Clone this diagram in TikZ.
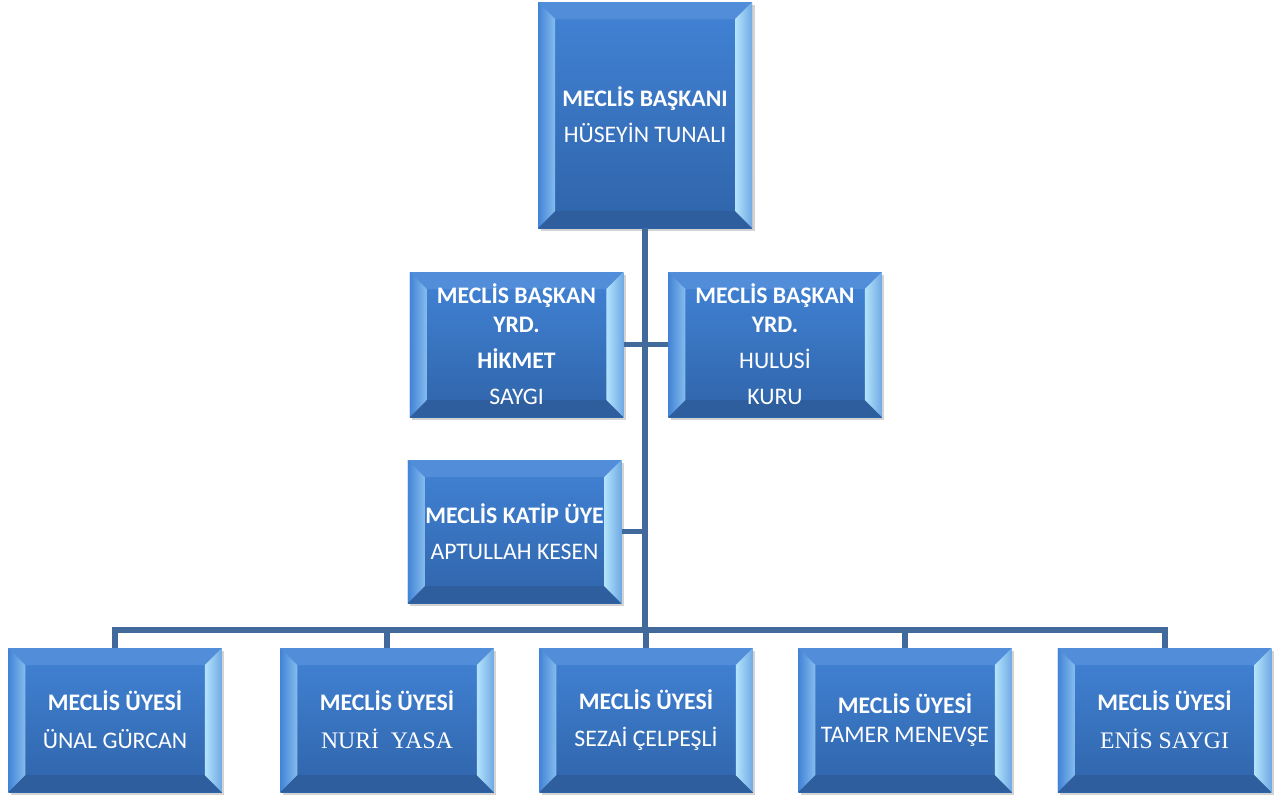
\documentclass[tikz,border=0pt]{standalone}
\usepackage{fontspec}
\setmainfont{Carlito}
\newfontfamily\timesfont{Liberation Serif}
\usetikzlibrary{shadows}

\definecolor{boxtop}{HTML}{4283D6}
\definecolor{boxbot}{HTML}{2F64A9}
\definecolor{bevlight}{HTML}{B4E4FB}
\definecolor{bevleft}{HTML}{86BDEE}
\definecolor{bevdark}{HTML}{2E5E9E}
\definecolor{linkblue}{HTML}{41699B}

\tikzset{
  bevelbox/.style={
    rectangle, top color=boxtop, bottom color=boxbot,
    text=white, align=center, font=\fontsize{13.5}{20.5}\selectfont,
    drop shadow={shadow xshift=1.5pt, shadow yshift=-1.5pt, opacity=0.35},
    path picture={
      % bevel faces
      \fill[boxtop!92!white]
        (path picture bounding box.north west) -- (path picture bounding box.north east)
        -- ([shift={(-0.34,-0.34)}]path picture bounding box.north east)
        -- ([shift={(0.34,-0.34)}]path picture bounding box.north west) -- cycle;
      \fill[bevdark]
        (path picture bounding box.south west) -- (path picture bounding box.south east)
        -- ([shift={(-0.34,0.34)}]path picture bounding box.south east)
        -- ([shift={(0.34,0.34)}]path picture bounding box.south west) -- cycle;
      \shade[left color=boxtop, right color=bevleft]
        (path picture bounding box.north west) -- (path picture bounding box.south west)
        -- ([shift={(0.34,0.34)}]path picture bounding box.south west)
        -- ([shift={(0.34,-0.34)}]path picture bounding box.north west) -- cycle;
      \shade[left color=bevlight, right color=boxtop!60!bevlight]
        (path picture bounding box.north east) -- (path picture bounding box.south east)
        -- ([shift={(-0.34,0.34)}]path picture bounding box.south east)
        -- ([shift={(-0.34,-0.34)}]path picture bounding box.north east) -- cycle;
    }},
  smallbox/.style={bevelbox, minimum width=4.27cm, minimum height=2.88cm},
  link/.style={draw=linkblue, line width=3.4pt}
}

\begin{document}
\begin{tikzpicture}
\useasboundingbox (0,0) rectangle (25.64,-15.96);

\node[bevelbox, minimum width=4.28cm, minimum height=4.52cm] (baskan) at (12.9,-2.3)
  {\textbf{MECLİS BAŞKANI}\\HÜSEYİN TUNALI};

\node[smallbox, minimum height=2.9cm] (yrd1) at (10.33,-6.89)
  {\textbf{MECLİS BAŞKAN}\\[-4pt]\textbf{YRD.}\\\textbf{HİKMET}\\SAYGI};
\node[smallbox, minimum height=2.9cm] (yrd2) at (15.5,-6.89)
  {\textbf{MECLİS BAŞKAN}\\[-4pt]\textbf{YRD.}\\HULUSİ\\KURU};

\node[smallbox, minimum height=2.86cm] (katip) at (10.29,-10.63)
  {\textbf{MECLİS KATİP ÜYE}\\APTULLAH KESEN};

\node[smallbox] (uye1) at (2.3,-14.4)
  {\textbf{MECLİS ÜYESİ}\\[1pt]ÜNAL GÜRCAN};
\node[smallbox] (uye2) at (7.74,-14.4)
  {\textbf{MECLİS ÜYESİ}\\[1pt]{\timesfont NURİ\ \ YASA}};
\node[smallbox] (uye3) at (12.92,-14.4)
  {\textbf{MECLİS ÜYESİ}\\[1pt]SEZAİ ÇELPEŞLİ};
\node[smallbox] (uye4) at (18.1,-14.4)
  {\textbf{MECLİS ÜYESİ}\\[-4pt]TAMER MENEVŞE};
\node[smallbox] (uye5) at (23.29,-14.4)
  {\textbf{MECLİS ÜYESİ}\\[1pt]{\timesfont ENİS SAYGI}};

\coordinate (bus) at (12.9,-12.6);

% connectors
\draw[link] (baskan.south) -- (baskan.south |- bus);
\draw[link] (yrd1.east) -- (yrd2.west);
\draw[link] (katip.east) -- (katip.east -| baskan.south);
\draw[link] (uye1.north) |- (uye5.north |- bus) -- (uye5.north);
\foreach \i in {2,3,4}
  \draw[link] (uye\i.north) -- (uye\i.north |- bus);
\end{tikzpicture}
\end{document}
